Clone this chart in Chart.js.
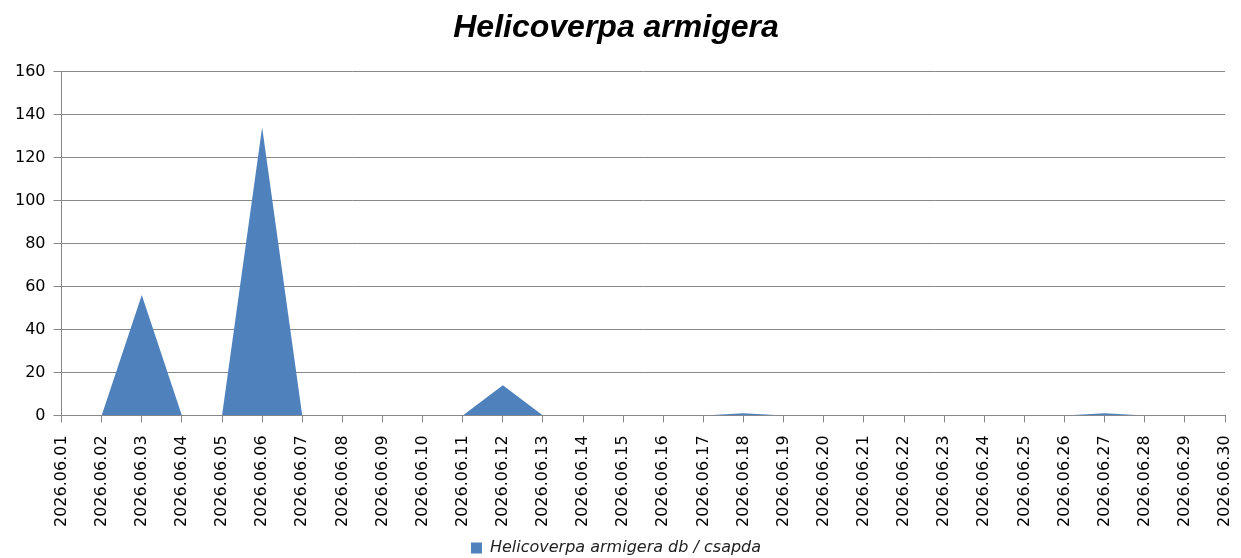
<!DOCTYPE html>
<html>
<head>
<meta charset="utf-8">
<script src="https://cdn.jsdelivr.net/npm/chart.js@4"></script>
<style>
  html, body { margin: 0; padding: 0; background: #ffffff; }
  #wrap { width: 1241px; height: 558px; }
</style>
</head>
<body>
<div id="wrap"><canvas id="chart"></canvas></div>
<script>
// Chart data
const dates = [
    "2026.06.01", "2026.06.02", "2026.06.03", "2026.06.04", "2026.06.05",
    "2026.06.06", "2026.06.07", "2026.06.08", "2026.06.09", "2026.06.10",
    "2026.06.11", "2026.06.12", "2026.06.13", "2026.06.14", "2026.06.15",
    "2026.06.16", "2026.06.17", "2026.06.18", "2026.06.19", "2026.06.20",
    "2026.06.21", "2026.06.22", "2026.06.23", "2026.06.24", "2026.06.25",
    "2026.06.26", "2026.06.27", "2026.06.28", "2026.06.29", "2026.06.30"
];
const counts = [
    0, 0, 56, 0, 0, 134, 0, 0, 0, 0,
    0, 14, 0, 0, 0, 0, 0, 1, 0, 0,
    0, 0, 0, 0, 0, 0, 1, 0, 0, 0
];
const seriesName = "Helicoverpa armigera db / csapda";
const chartTitle = "Helicoverpa armigera";

document.addEventListener("DOMContentLoaded", function () {
    const ctx = document.getElementById("chart").getContext("2d");

    new Chart(ctx, {
        type: "line",
        data: {
            labels: dates,
            datasets: [{
                label: seriesName,
                data: counts,
                fill: "origin",
                backgroundColor: "#4f81bd",
                borderColor: "#4f81bd",
                borderWidth: 0,
                pointRadius: 0,
                tension: 0
            }]
        },
        options: {
            responsive: true,
            maintainAspectRatio: false,
            animation: false,
            layout: { padding: { left: 7, right: 16, top: 2, bottom: -8 } },
            plugins: {
                title: {
                    display: true,
                    text: chartTitle,
                    color: "#000000",
                    font: { family: "Liberation Sans", size: 32, weight: "bold", style: "italic" },
                    padding: { top: 7, bottom: 24 }
                },
                legend: {
                    position: "bottom",
                    labels: {
                        color: "#222222",
                        boxWidth: 11,
                        boxHeight: 11,
                        padding: 0,
                        font: { family: "DejaVu Sans", size: 16, style: "italic" }
                    }
                },
                tooltip: { enabled: false }
            },
            scales: {
                x: {
                    offset: false,
                    afterFit: function (scale) {
                        // keep the last rotated label from shrinking the plot
                        scale.paddingRight = 0;
                    },
                    grid: {
                        drawOnChartArea: false,
                        drawTicks: true,
                        tickLength: 7,
                        color: "#888888"
                    },
                    border: { display: true, color: "#888888", width: 1 },
                    ticks: {
                        autoSkip: false,
                        maxRotation: 90,
                        minRotation: 90,
                        padding: 13,
                        color: "#000000",
                        font: { family: "DejaVu Sans", size: 16 }
                    }
                },
                y: {
                    min: 0,
                    max: 160,
                    grid: {
                        color: "#888888",
                        tickLength: 8
                    },
                    border: { display: true, color: "#888888", width: 1 },
                    ticks: {
                        stepSize: 20,
                        padding: 8,
                        color: "#000000",
                        font: { family: "DejaVu Sans", size: 16 }
                    }
                }
            }
        }
    });
});
</script>
</body>
</html>
